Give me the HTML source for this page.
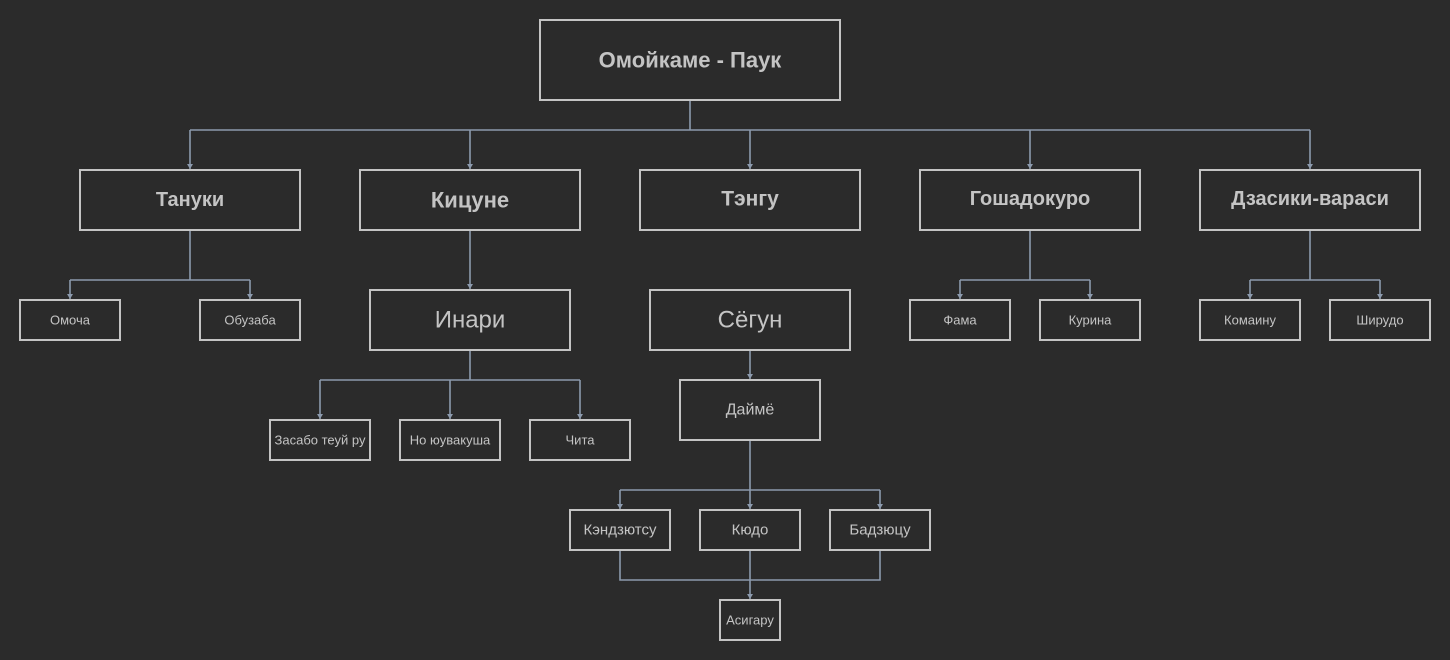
<!DOCTYPE html>
<html><head><meta charset="utf-8"><style>
html,body{margin:0;padding:0;background:#2b2b2b;}
svg{display:block}
text{font-family:"Liberation Sans",Arial,sans-serif;fill:#c4c4c4;text-anchor:middle;dominant-baseline:central}
.b{fill:#2b2b2b;stroke:#c4c4c4;stroke-width:2}
.l{stroke:#8c9aad;stroke-width:1.6;fill:none}
.a{fill:#8c9aad}
</style></head><body>
<svg width="1450" height="660" viewBox="0 0 1450 660">
<g class="l">
<path d="M690 100V130M190 130H1310M190 130V170M470 130V170M750 130V170M1030 130V170M1310 130V170"/>
<path d="M190 230V280M70 280H250M70 280V300M250 280V300"/>
<path d="M470 230V290"/>
<path d="M470 350V380M320 380H580M320 380V420M450 380V420M580 380V420"/>
<path d="M750 350V380"/>
<path d="M1030 230V280M960 280H1090M960 280V300M1090 280V300"/>
<path d="M1310 230V280M1250 280H1380M1250 280V300M1380 280V300"/>
<path d="M750 440V510M620 490H880M620 490V510M880 490V510"/>
<path d="M620 550V580H880V550M750 550V600"/>
</g>
<g class="a">
<path d="M187 164h6l-3 5z M467 164h6l-3 5z M747 164h6l-3 5z M1027 164h6l-3 5z M1307 164h6l-3 5z"/>
<path d="M67 294h6l-3 5z M247 294h6l-3 5z M467 284h6l-3 5z"/>
<path d="M317 414h6l-3 5z M447 414h6l-3 5z M577 414h6l-3 5z M747 374h6l-3 5z"/>
<path d="M957 294h6l-3 5z M1087 294h6l-3 5z M1247 294h6l-3 5z M1377 294h6l-3 5z"/>
<path d="M617 504h6l-3 5z M747 504h6l-3 5z M877 504h6l-3 5z M747 594h6l-3 5z"/>
</g>
<rect class="b" x="540" y="20" width="300" height="80"/><text x="690" y="60" font-size="22" font-weight="bold">Омойкаме - Паук</text>
<rect class="b" x="80" y="170" width="220" height="60"/><text x="190" y="200" font-size="20" font-weight="bold">Тануки</text>
<rect class="b" x="360" y="170" width="220" height="60"/><text x="470" y="200" font-size="22" font-weight="bold">Кицуне</text>
<rect class="b" x="640" y="170" width="220" height="60"/><text x="750" y="199" font-size="21" font-weight="bold">Тэнгу</text>
<rect class="b" x="920" y="170" width="220" height="60"/><text x="1030" y="199" font-size="20" font-weight="bold">Гошадокуро</text>
<rect class="b" x="1200" y="170" width="220" height="60"/><text x="1310" y="199" font-size="20" font-weight="bold">Дзасики-вараси</text>
<rect class="b" x="20" y="300" width="100" height="40"/><text x="70" y="320" font-size="13">Омоча</text>
<rect class="b" x="200" y="300" width="100" height="40"/><text x="250" y="320" font-size="13">Обузаба</text>
<rect class="b" x="370" y="290" width="200" height="60"/><text x="470" y="320" font-size="24">Инари</text>
<rect class="b" x="650" y="290" width="200" height="60"/><text x="750" y="320" font-size="24">Сёгун</text>
<rect class="b" x="910" y="300" width="100" height="40"/><text x="960" y="320" font-size="13">Фама</text>
<rect class="b" x="1040" y="300" width="100" height="40"/><text x="1090" y="320" font-size="13">Курина</text>
<rect class="b" x="1200" y="300" width="100" height="40"/><text x="1250" y="320" font-size="13">Комаину</text>
<rect class="b" x="1330" y="300" width="100" height="40"/><text x="1380" y="320" font-size="13">Ширудо</text>
<rect class="b" x="270" y="420" width="100" height="40"/><text x="320" y="440" font-size="13">Засабо теуй ру</text>
<rect class="b" x="400" y="420" width="100" height="40"/><text x="450" y="440" font-size="13">Но юувакуша</text>
<rect class="b" x="530" y="420" width="100" height="40"/><text x="580" y="440" font-size="13">Чита</text>
<rect class="b" x="680" y="380" width="140" height="60"/><text x="750" y="410" font-size="16">Даймё</text>
<rect class="b" x="570" y="510" width="100" height="40"/><text x="620" y="530" font-size="15">Кэндзютсу</text>
<rect class="b" x="700" y="510" width="100" height="40"/><text x="750" y="530" font-size="15">Кюдо</text>
<rect class="b" x="830" y="510" width="100" height="40"/><text x="880" y="530" font-size="15">Бадзюцу</text>
<rect class="b" x="720" y="600" width="60" height="40"/><text x="750" y="620" font-size="13">Асигару</text>
</svg>
</body></html>
